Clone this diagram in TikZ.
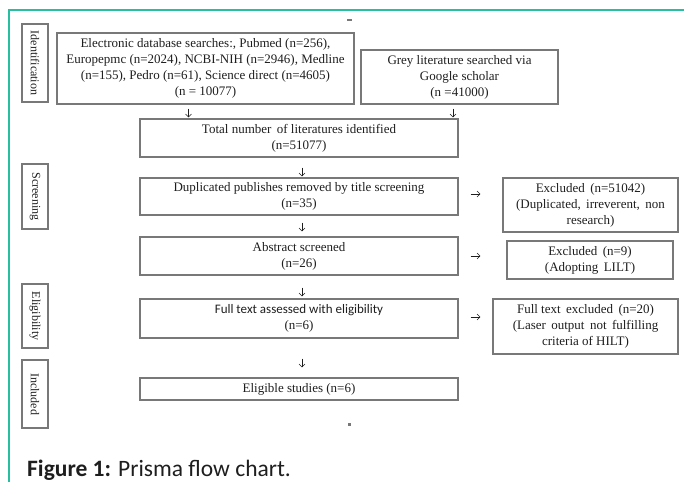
\documentclass[tikz,border=0pt]{standalone}
\usepackage{fontspec}
\setmainfont{Liberation Serif}
\newfontfamily\calib{Carlito}
\usetikzlibrary{arrows.meta,positioning}
\definecolor{frameteal}{RGB}{40,190,162}
\definecolor{boxgray}{RGB}{120,120,120}
\definecolor{inkgray}{RGB}{30,30,30}
\tikzset{
  box/.style={draw=boxgray,line width=1.1pt,align=center,inner sep=1pt,
    text=inkgray,font=\fontsize{13}{16}\selectfont},
  phase/.style={draw=boxgray,line width=1.1pt,rotate=-90,inner sep=0pt,
    text=inkgray,font=\fontsize{12}{14}\selectfont,minimum height=26pt},
  arr/.style={draw=inkgray,line width=0.6pt,-{Straight Barb[length=3pt,width=6pt]}}
}

\begin{document}
\begin{tikzpicture}[x=1pt,y=-1pt]
  \useasboundingbox (0,0) rectangle (684,481);
  % frame
  \draw[frameteal,line width=1.6pt] (9,490) |- (690,10);
  % phases
  \node[phase,minimum width=78pt] (ident) at (35,63) {Identification};
  \node[phase,minimum width=65pt] (screen) at (35,196.5) {Screening};
  \node[phase,minimum width=64pt] (eligph) at (35,316) {Eligibility};
  \node[phase,minimum width=68pt] (incl) at (35,394) {Included};
  % flow boxes
  \node[box,minimum width=297pt,minimum height=71pt] (search) at (205.5,68.5)
    {Electronic database searches:, Pubmed (n=256),\\
     Europepmc (n=2024), NCBI-NIH (n=2946), Medline\\
     (n=155), Pedro (n=61), Science direct (n=4605)\\
     (n = 10077)};
  \node[box,minimum width=197pt,minimum height=54pt] (grey) at (459.5,77)
    {Grey literature searched via\\ Google scholar\\ (n =41000)};
  \node[box,minimum width=318pt,minimum height=38pt] (total) at (299,138)
    {Total number\, of literatures identified\\ (n=51077)};
  \node[box,minimum width=318pt,minimum height=37pt] (dup) at (299,196.5)
    {Duplicated publishes removed by title screening\\ (n=35)};
  \node[box,minimum width=318pt,minimum height=38pt] (abs) at (299,256)
    {Abstract screened\\ (n=26)};
  \node[box,minimum width=318pt,minimum height=39pt] (full) at (299,318.5)
    {{\calib Full text assessed with eligibility}\\ (n=6)};
  \node[box,minimum width=318pt,minimum height=22pt] (elig) at (299,389)
    {Eligible studies (n=6)};
  % exclusions
  \node[box,minimum width=175pt,minimum height=54pt] (exc1) at (590.5,205)
    {Excluded\, (n=51042)\\ (Duplicated,\, irreverent,\, non\\ research)};
  \node[box,minimum width=166pt,minimum height=38pt] (exc2) at (590,260)
    {Excluded\, (n=9)\\ (Adopting\, LILT)};
  \node[box,minimum width=185pt,minimum height=55pt] (exc3) at (585.5,326.5)
    {Full text\, excluded\, (n=20)\\ (Laser\, output\, not\, fulfilling\\ criteria of HILT)};
  % arrows
  \draw[arr,shorten <=4pt,shorten >=1pt] ([xshift=-17pt]search.south) -- ([xshift=-17pt]search.south |- total.north);
  \draw[arr,shorten <=4pt,shorten >=1pt] ([xshift=-6.5pt]grey.south) -- ([xshift=-6.5pt]grey.south |- total.north);
  \draw[arr,shorten <=10pt,shorten >=1pt] ([xshift=3pt]total.south) -- ([xshift=3pt]dup.north);
  \draw[arr,shorten <=7pt,shorten >=5pt] ([xshift=3pt]dup.south) -- ([xshift=3pt]abs.north);
  \draw[arr,shorten <=12pt,shorten >=2pt] ([xshift=3pt]abs.south) -- ([xshift=3pt]full.north);
  \draw[arr,shorten <=20pt,shorten >=10pt] ([xshift=3pt]full.south) -- ([xshift=3pt]elig.north);
  \draw[arr,shorten <=12pt,shorten >=22pt] ([yshift=2.5pt]dup.east) -- ([yshift=2.5pt]dup.east -| exc1.west);
  \draw[arr,shorten <=12pt,shorten >=26pt] (abs.east) -- (abs.east -| exc2.west);
  \draw[arr,shorten <=12pt,shorten >=12pt] ([yshift=1.5pt]full.east) -- ([yshift=1.5pt]full.east -| exc3.west);
  % stray marks
  \fill[boxgray] (346.5,19.5) rectangle (351.5,21);
  \fill[boxgray] (348,422.5) rectangle (351,425.5);
  % caption
  \node[anchor=base west,inner sep=0pt,text=inkgray,font=\calib\fontsize{23.5}{26}\selectfont] (cap) at (27,476)
    {\textbf{Figure 1:} Prisma flow chart.};
\end{tikzpicture}
\end{document}
